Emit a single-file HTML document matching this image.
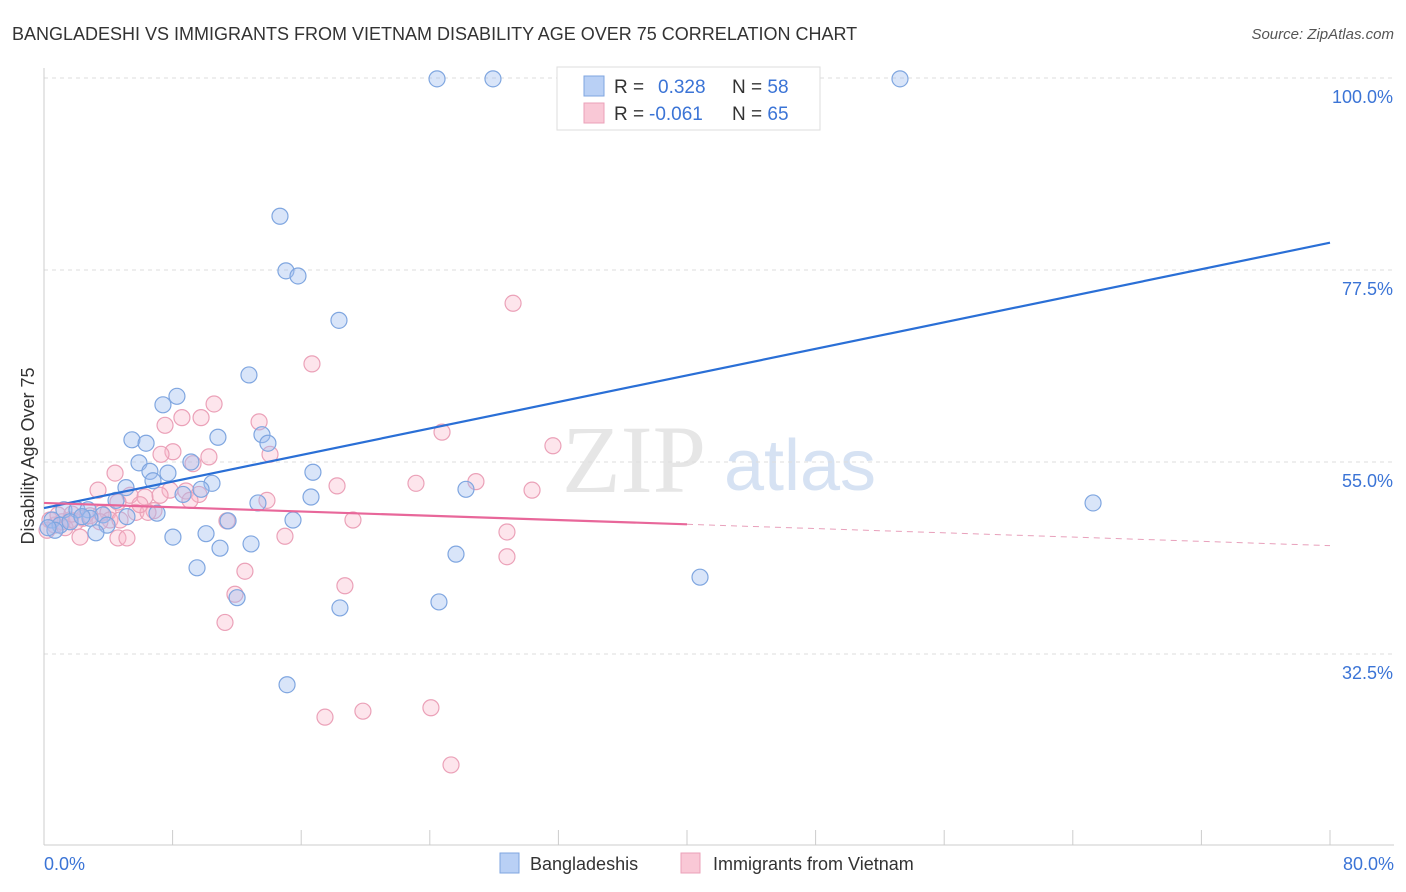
<!DOCTYPE html>
<html><head><meta charset="utf-8"><style>
body{margin:0;background:#fff;font-family:"Liberation Sans",sans-serif;}
svg{display:block}
</style></head><body>
<svg id="chart" width="1406" height="892" xmlns="http://www.w3.org/2000/svg">
<text x="12" y="40" font-size="18" fill="#333">BANGLADESHI VS IMMIGRANTS FROM VIETNAM DISABILITY AGE OVER 75 CORRELATION CHART</text>
<text x="1394" y="39" font-size="15" fill="#555" text-anchor="end" font-style="italic">Source: ZipAtlas.com</text>
<text x="634" y="492" font-size="96" fill="#e6e6e6" font-family="Liberation Serif,serif" text-anchor="middle">ZIP</text>
<text x="800" y="490" font-size="72" fill="#d6e2f3" text-anchor="middle">atlas</text>
<g id="grid"></g>
<g id="axes"></g>
<g id="points"></g>
<g id="lines"></g>
<text transform="translate(34,456) rotate(-90)" font-size="18" fill="#333" text-anchor="middle">Disability Age Over 75</text>
<text x="44" y="870" font-size="18" fill="#3b74d6">0.0%</text>
<text x="1394" y="870" font-size="18" fill="#3b74d6" text-anchor="end">80.0%</text>
<g>
<rect x="557" y="67" width="263" height="63" fill="#fff" stroke="#ddd"/>
<rect x="584" y="76" width="20" height="20" fill="#b9d0f5" stroke="#7fa6e0"/>
<rect x="584" y="103" width="20" height="20" fill="#f9c8d6" stroke="#eba1b8"/>
<text x="614" y="93" font-size="19" fill="#333">R = <tspan fill="#3b74d6" x="658">0.328</tspan><tspan x="732" fill="#333">N = </tspan><tspan fill="#3b74d6">58</tspan></text>
<text x="614" y="120" font-size="19" fill="#333">R = <tspan fill="#3b74d6" x="649">-0.061</tspan><tspan x="732" fill="#333">N = </tspan><tspan fill="#3b74d6">65</tspan></text>
</g>
<g>
<rect x="500" y="853" width="19" height="20" fill="#b9d0f5" stroke="#7fa6e0"/>
<text x="530" y="870" font-size="18" fill="#333">Bangladeshis</text>
<rect x="681" y="853" width="19" height="20" fill="#f9c8d6" stroke="#eba1b8"/>
<text x="713" y="870" font-size="18" fill="#333">Immigrants from Vietnam</text>
</g>
</svg>
<script>
const yTicks=[100,77.5,55,32.5];
const yTickLabels=["100.0%","77.5%","55.0%","32.5%"];
const xTicks=[0,8,16,24,32,40,48,56,64,72,80];
const blueX=[24.45,27.93,53.25,14.68,15.05,15.8,18.35,12.75,8.27,7.4,10.82,5.47,6.35,13.56,13.93,5.91,9.14,16.73,6.59,7.71,6.78,10.45,5.1,9.77,8.65,26.25,16.61,13.31,4.48,65.26,1.24,2.05,2.74,3.67,7.03,5.16,11.45,15.49,0.5,1.0,2.86,3.92,3.23,8.02,10.08,12.88,10.95,25.63,9.52,40.81,12.01,18.41,24.57,15.12,0.68,1.62,0.25,2.36];
const blueY=[99.9,99.9,99.9,83.8,77.4,76.8,71.6,65.2,62.7,61.7,57.9,57.6,57.2,58.2,57.2,54.9,55.0,53.8,53.9,53.7,52.8,52.5,52.0,51.8,51.2,51.8,50.9,50.2,50.5,50.2,49.4,49.4,49.4,48.8,49.0,48.6,48.1,48.2,48.2,47.6,48.4,47.6,46.7,46.2,46.6,45.4,44.9,44.2,42.6,41.5,39.1,37.9,38.6,28.9,47.0,48.0,47.3,48.6];
const pinkX=[29.18,16.67,10.58,8.58,9.77,7.53,13.38,24.76,31.66,8.02,7.28,14.06,10.26,9.27,4.42,3.36,23.14,26.87,18.23,30.36,7.84,8.83,13.87,6.28,5.35,4.6,9.64,6.84,5.72,6.47,3.55,9.08,2.43,1.62,1.12,0.68,0.19,0.37,1.31,1.99,2.86,3.98,19.22,11.38,28.8,14.99,2.24,4.6,5.16,28.8,12.5,18.72,11.88,11.26,17.48,19.84,24.07,25.32,4.1,0.87,3.48,1.74,4.73,5.97,7.22];
const pinkY=[73.6,66.5,61.8,60.2,60.2,59.3,59.7,58.5,56.9,56.2,55.9,55.9,55.6,54.8,53.7,51.7,52.5,52.7,52.2,51.7,51.7,51.6,50.5,50.9,51.1,50.3,51.2,49.3,49.1,49.1,49.0,50.5,48.4,48.2,48.0,47.6,47.0,48.2,47.3,48.0,48.7,49.1,48.2,48.1,46.8,46.3,46.2,46.1,46.1,43.9,42.2,40.5,39.5,36.2,25.1,25.8,26.2,19.5,48.2,48.8,48.0,48.9,48.2,50.0,51.1];
const blueTrend=[49.6,80.7];
const pinkTrend=[50.2,47.7,45.2];
const NS="http://www.w3.org/2000/svg";
function X(v){return 44+v*1286/80;}
function Y(v){return 78+(100-v)*192/22.5;}
function mk(tag,attrs,parent){const e=document.createElementNS(NS,tag);for(const k in attrs)e.setAttribute(k,attrs[k]);parent.appendChild(e);return e;}
const grid=document.getElementById('grid'),axes=document.getElementById('axes'),pts=document.getElementById('points'),lines=document.getElementById('lines');
yTicks.forEach((t,i)=>{
  const l=mk('line',{x1:44,x2:1394,y1:Y(t),y2:Y(t),stroke:'#ddd','stroke-dasharray':'4,4'},grid);
  
  
  const tx=mk('text',{x:1393,y:Y(t)+25,'font-size':18,fill:'#3b74d6','text-anchor':'end'},grid);
  tx.textContent=yTickLabels[i];
  
  
});
const xa=mk('line',{x1:44,x2:1394,y1:845,y2:845,stroke:'#ccc'},axes);


const ya=mk('line',{x1:44,x2:44,y1:68,y2:845,stroke:'#ccc'},axes);


xTicks.forEach(t=>{
  const l=mk('line',{x1:X(t),x2:X(t),y1:830,y2:845,stroke:'#ccc'},axes);
  
  
});
pinkX.forEach((v,i)=>{
  const c=mk('circle',{cx:X(v),cy:Y(pinkY[i]),r:8,fill:'rgba(248,180,200,0.35)',stroke:'#eba1b8','stroke-width':1.2},pts);
  
  
});
blueX.forEach((v,i)=>{
  const c=mk('circle',{cx:X(v),cy:Y(blueY[i]),r:8,fill:'rgba(160,190,240,0.4)',stroke:'#7fa6e0','stroke-width':1.2},pts);
  
  
});
const bl=mk('line',{x1:X(0),y1:Y(blueTrend[0]),x2:X(80),y2:Y(blueTrend[1]),stroke:'#2a6fd6','stroke-width':2.2},lines);


const pl=mk('line',{x1:X(0),y1:Y(pinkTrend[0]),x2:X(40),y2:Y(pinkTrend[1]),stroke:'#e8679a','stroke-width':2.2},lines);


const pd=mk('line',{x1:X(40),y1:Y(pinkTrend[1]),x2:X(80),y2:Y(pinkTrend[2]),stroke:'#e8a0bb','stroke-width':1,'stroke-dasharray':'6,5'},lines);


</script>
</body></html>
